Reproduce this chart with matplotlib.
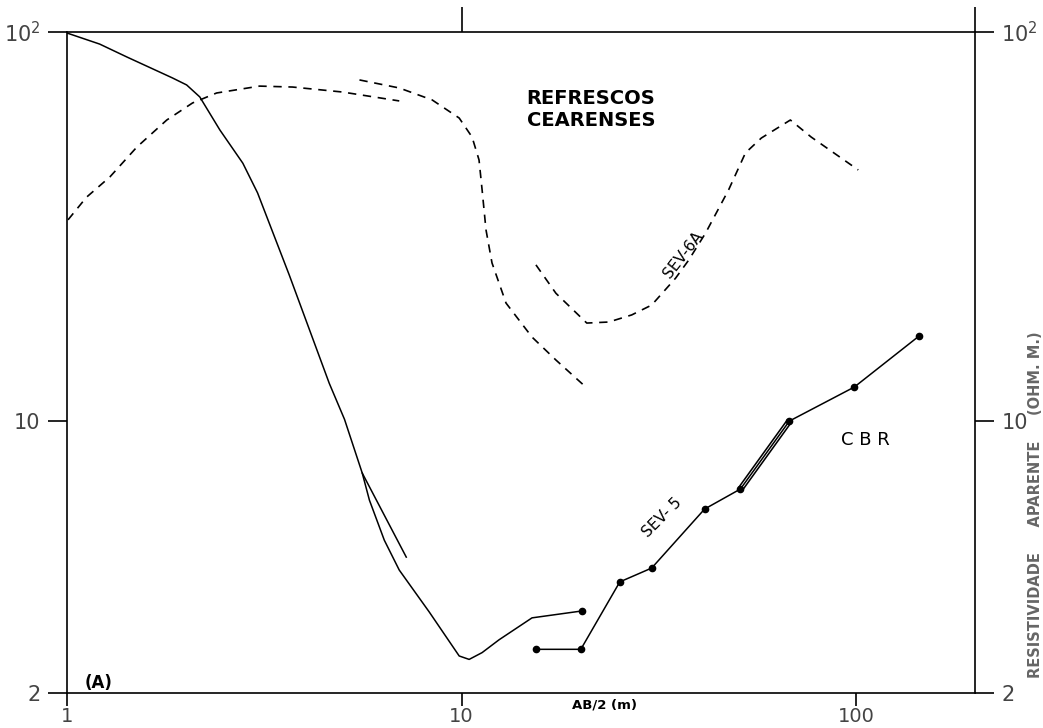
import matplotlib
matplotlib.use('Agg')
import matplotlib.pyplot as plt
from matplotlib.ticker import FixedLocator, NullLocator

# Curva principal (linha cheia)
main_x = [1.0, 1.21, 1.42, 1.85, 2.01, 2.17, 2.44, 2.79, 3.04, 3.66, 4.62, 5.05,
          5.60, 5.84, 6.37, 6.95, 8.28, 9.86, 10.45, 11.27, 12.44, 15.08, 20.17]
main_y = [99.4, 93.1, 86.2, 76.2, 73.1, 68.1, 56.0, 46.0, 38.6, 23.7, 12.5, 10.1,
          7.35, 6.26, 4.94, 4.14, 3.23, 2.49, 2.44, 2.54, 2.74, 3.12, 3.25]

# ramo curto
branch_x = [5.60, 7.24]
branch_y = [7.35, 4.47]

# SEV-5 (pontos medidos)
sev5_x = [15.43, 20.05, 25.17, 30.32, 41.28, 50.9, 67.7, 98.9, 144.3]
sev5_y = [2.59, 2.59, 3.86, 4.19, 5.94, 6.69, 10.0, 12.23, 16.54]

# curvas tracejadas
dash1_x = [1.006, 1.12, 1.284, 1.503, 1.79, 2.08, 2.394, 3.076, 3.73, 4.99, 6.95]
dash1_y = [32.9, 37.6, 42.4, 50.6, 59.4, 65.7, 69.7, 72.6, 72.2, 70.1, 66.5]

dash2_x = [5.51, 6.95, 8.42, 9.86, 10.63, 11.07, 11.27, 11.53, 11.94, 12.96, 15.08, 17.34, 20.64]
dash2_y = [75.3, 71.8, 66.9, 60.1, 53.7, 46.9, 39.3, 31.0, 25.5, 20.1, 16.44, 14.35, 12.23]

sev6a_x = [15.43, 17.34, 20.76, 23.6, 26.98, 30.32, 34.86, 37.6, 41.5, 47.5, 52.4, 57.5, 68.1, 76.9, 101.2]
sev6a_y = [25.2, 21.3, 17.86, 17.97, 18.74, 19.87, 23.3, 25.9, 30.4, 39.3, 48.9, 53.4, 59.4, 53.7, 44.2]

x_ticks = [1, 10, 100]
x_labels = ['1', '10', '100']
y_ticks = [2, 10, 100]
y_labels = ['2', '10', r'$10^2$']

W, H = 1043, 728
fig = plt.figure(figsize=(W / 100, H / 100), dpi=100)
ax = fig.add_axes([67 / W, 1 - 693 / H, 908 / W, 661 / H])

ax.set_xscale('log')
ax.set_yscale('log')
ax.set_xlim(1, 200)
ax.set_ylim(2, 100)

lw = 1.1
ax.plot(main_x, main_y, color='black', lw=lw)
ax.plot(branch_x, branch_y, color='black', lw=lw)

# trecho duplo entre 50 e 68 m
ax.plot(sev5_x[5:7], sev5_y[5:7], color='black', lw=4.5, solid_capstyle='butt')
ax.plot(sev5_x[5:7], sev5_y[5:7], color='white', lw=2.2, solid_capstyle='butt')
ax.plot(sev5_x, sev5_y, color='black', lw=lw, marker='o', markersize=4.5)
ax.plot(main_x[-1:], main_y[-1:], color='black', marker='o', markersize=4.5)

dash = (0, (5, 4))
ax.plot(dash1_x, dash1_y, color='black', lw=1.2, linestyle=dash)
ax.plot(dash2_x, dash2_y, color='black', lw=1.2, linestyle=dash)
ax.plot(sev6a_x, sev6a_y, color='black', lw=1.2, linestyle=dash)

# eixos
for s in ax.spines.values():
    s.set_linewidth(1.2)

tick_color = '#444444'
ax.xaxis.set_major_locator(FixedLocator(x_ticks))
ax.xaxis.set_minor_locator(NullLocator())
ax.set_xticklabels(x_labels)
ax.yaxis.set_major_locator(FixedLocator(y_ticks))
ax.yaxis.set_minor_locator(NullLocator())
ax.set_yticklabels(y_labels)
ax.tick_params(axis='both', which='major', direction='out', length=14, width=1.2,
               labelsize=15, labelcolor=tick_color, pad=5)
ax.tick_params(axis='x', length=9, labelsize=14, pad=1)
ax.tick_params(axis='y', right=True, labelright=True)
ax.tick_params(axis='x', top=False)

top = ax.secondary_xaxis('top')
top.set_xticks([10, 200])
top.set_xticklabels(['', ''])
top.xaxis.set_minor_locator(NullLocator())
top.tick_params(direction='out', length=18, width=1.2)
top.spines['top'].set_visible(False)

# textos
fig.text(591 / W, 1 - 110 / H, 'REFRESCOS\nCEARENSES', fontsize=14, fontweight='bold',
         ha='center', va='center', linespacing=1.2)
fig.text(85 / W, 1 - 683 / H, '(A)', fontsize=12, fontweight='bold', ha='left', va='center')
fig.text(605 / W, 1 - 705 / H, 'AB/2 (m)', fontsize=9.5, fontweight='bold', ha='center', va='center')
fig.text(865 / W, 1 - 440 / H, 'C B R', fontsize=13, ha='center', va='center')
fig.text(662 / W, 1 - 518 / H, 'SEV- 5', fontsize=11, ha='center', va='center', rotation=45)
fig.text(683 / W, 1 - 255 / H, 'SEV-6A', fontsize=11, ha='center', va='center', rotation=52)
fig.text(1036 / W, 1 - 505 / H, 'RESISTIVIDADE     APARENTE     (OHM. M.)', fontsize=10.5,
         fontweight='bold', color='#666666', ha='center', va='center', rotation=90)

fig.savefig('out.png', dpi=100)
